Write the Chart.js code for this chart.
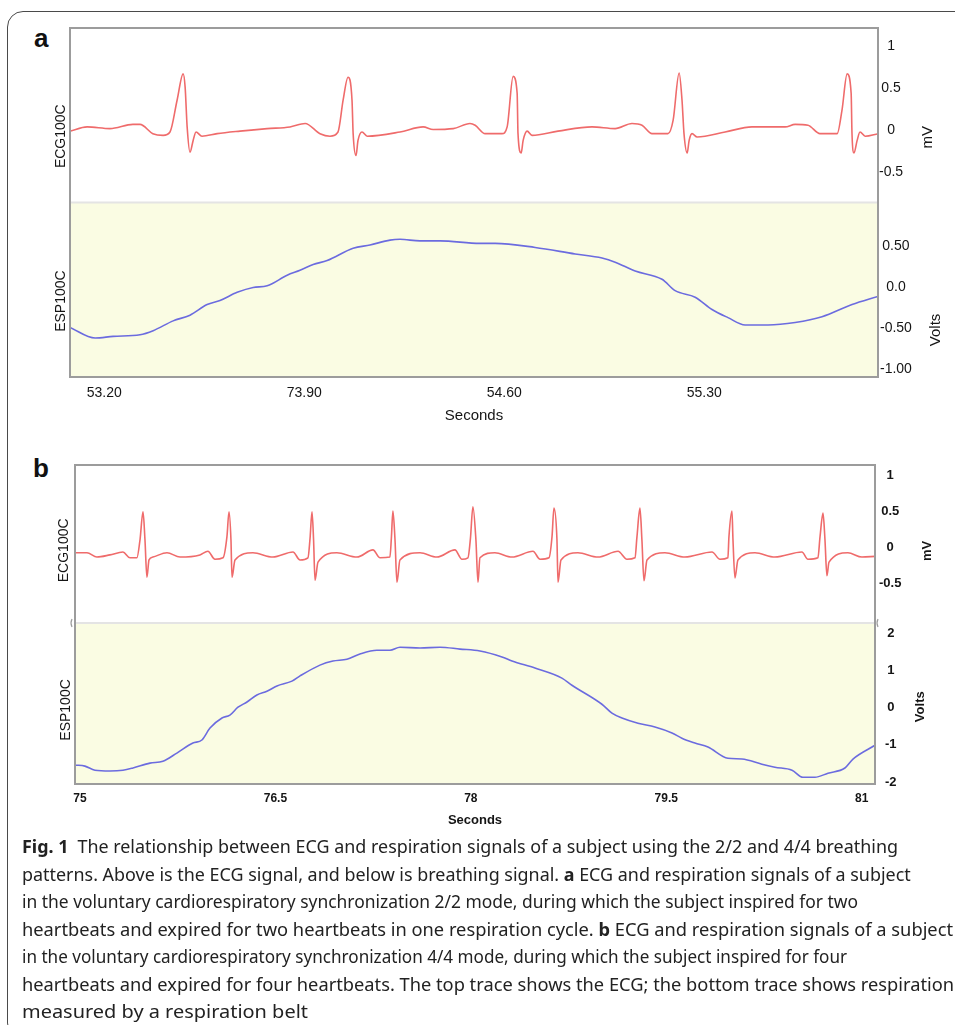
<!DOCTYPE html>
<html>
<head>
<meta charset="utf-8">
<script src="https://cdn.jsdelivr.net/npm/chart.js@4.4.1/dist/chart.umd.min.js"></script>
<style>
  html, body { margin: 0; padding: 0; background: #fff; }
  body { width: 955px; height: 1025px; position: relative; overflow: hidden; font-family: "Liberation Sans", Arial, sans-serif; }
  .frame { position: absolute; left: 7px; top: 11px; width: 1000px; height: 1028px; border: 1.4px solid #4a4a4a; border-radius: 16px; box-sizing: border-box; }
  .tag { position: absolute; font: bold 26px/26px "Liberation Sans", Arial, sans-serif; color: #111; }
  #chartA { position: absolute; left: 0; top: 0; }
  #chartB { position: absolute; left: 0; top: 435px; }
  .caption { position: absolute; left: 22px; top: 833px; font: 18px/27.5px "Noto Sans", "Open Sans", sans-serif; color: #222; }
  .caption .ln { display: block; white-space: nowrap; width: max-content; transform-origin: 0 50%; }
</style>
</head>
<body>
<div class="frame"></div>
<div class="tag" style="left:34px; top:25px;">a</div>
<div class="tag" style="left:33px; top:455px;">b</div>
<canvas id="chartA" width="955" height="430"></canvas>
<canvas id="chartB" width="955" height="400"></canvas>
<div class="caption">
  <span class="ln"><b>Fig. 1</b>&ensp;The relationship between ECG and respiration signals of a subject using the 2/2 and 4/4 breathing</span>
  <span class="ln">patterns. Above is the ECG signal, and below is breathing signal. <b>a</b> ECG and respiration signals of a subject</span>
  <span class="ln">in the voluntary cardiorespiratory synchronization 2/2 mode, during which the subject inspired for two</span>
  <span class="ln">heartbeats and expired for two heartbeats in one respiration cycle. <b>b</b> ECG and respiration signals of a subject</span>
  <span class="ln">in the voluntary cardiorespiratory synchronization 4/4 mode, during which the subject inspired for four</span>
  <span class="ln">heartbeats and expired for four heartbeats. The top trace shows the ECG; the bottom trace shows respiration</span>
  <span class="ln">measured by a respiration belt</span>
</div>
<script>
// ---- panel a (2/2 mode) ----
const ecgATime = [53.080, 53.140, 53.220, 53.300, 53.325, 53.370, 53.406, 53.430, 53.455, 53.476, 53.483, 53.490, 53.500, 53.511, 53.521, 53.542,
  53.595, 53.675, 53.770, 53.850, 53.903, 53.955, 53.990, 54.018, 54.036, 54.053, 54.067, 54.071, 54.081, 54.088, 54.102, 54.120,
  54.235, 54.316, 54.351, 54.421, 54.480, 54.498, 54.533, 54.592, 54.610, 54.631, 54.645, 54.648, 54.659, 54.666, 54.680, 54.697,
  54.788, 54.907, 54.988, 55.047, 55.082, 55.117, 55.173, 55.191, 55.212, 55.222, 55.229, 55.240, 55.247, 55.257, 55.275,
  55.373, 55.467, 55.583, 55.618, 55.663, 55.705, 55.765, 55.782, 55.800, 55.814, 55.817, 55.824, 55.835, 55.845, 55.863, 55.908];
const ecgAmV = [-0.01, 0.04, 0.02, 0.07, 0.07, -0.04, -0.06, -0.02, 0.36, 0.67, 0.51, 0.04, -0.26, -0.12, -0.02, -0.07,
  -0.04, -0.01, 0.02, 0.04, 0.08, -0.04, -0.07, -0.02, 0.36, 0.63, 0.36, -0.04, -0.30, -0.12, -0.02, -0.07,
  -0.02, 0.04, 0.01, 0.02, 0.08, 0.06, -0.04, -0.04, 0.04, 0.64, 0.44, -0.04, -0.27, -0.12, -0.01, -0.06,
  -0.01, 0.04, 0.02, 0.08, 0.06, -0.04, -0.04, 0.12, 0.68, 0.36, -0.04, -0.27, -0.12, -0.04, -0.08,
  -0.02, 0.04, 0.04, 0.07, 0.06, -0.04, -0.04, 0.24, 0.67, 0.44, -0.04, -0.27, -0.12, -0.02, -0.07, -0.04];
const respATime = [53.080, 53.168, 53.231, 53.325, 53.371, 53.441, 53.500, 53.560, 53.605, 53.665, 53.721, 53.770, 53.840, 53.885,
  53.931, 53.980, 54.071, 54.130, 54.200, 54.235, 54.305, 54.375, 54.515, 54.568, 54.708, 54.848, 54.942, 54.988, 55.058,
  55.152, 55.198, 55.268, 55.327, 55.383, 55.443, 55.523, 55.618, 55.712, 55.817, 55.908];
const respAVolts = [-0.49, -0.62, -0.60, -0.58, -0.53, -0.41, -0.34, -0.21, -0.16, -0.06, 0.00, 0.02, 0.15, 0.21,
  0.28, 0.33, 0.48, 0.52, 0.58, 0.59, 0.57, 0.57, 0.54, 0.54, 0.49, 0.41, 0.36, 0.31, 0.20,
  0.10, -0.04, -0.12, -0.27, -0.37, -0.46, -0.46, -0.43, -0.36, -0.21, -0.11];
const xTicksA = [53.2, 53.9, 54.6, 55.3];
const xLabelsA = ['53.20', '73.90', '54.60', '55.30'];
const ecgTicksA = [-0.5, 0, 0.5, 1];
const ecgLabelsA = ['-0.5', '0', '0.5', '1'];
const respTicksA = [-1, -0.5, 0, 0.5];
const respLabelsA = ['-1.00', '-0.50', '0.0', '0.50'];

// ---- panel b (4/4 mode) ----
const ecgBTime = [74.962, 75.054, 75.130, 75.230, 75.330, 75.384, 75.437, 75.461, 75.484, 75.499, 75.514, 75.530, 75.560,
  75.668, 75.768, 75.921, 75.982, 76.036, 76.098, 76.128, 76.144, 76.159, 76.167, 76.190,
  76.328, 76.481, 76.635, 76.689, 76.750, 76.766, 76.781, 76.793, 76.804, 76.827,
  76.972, 77.126, 77.249, 77.303, 77.379, 77.390, 77.402, 77.418, 77.433, 77.456,
  77.610, 77.740, 77.878, 77.932, 77.978, 77.997, 78.016, 78.039, 78.055, 78.070,
  78.185, 78.316, 78.477, 78.531, 78.600, 78.623, 78.638, 78.661, 78.669, 78.692,
  78.822, 78.976, 79.130, 79.198, 79.260, 79.275, 79.298, 79.313, 79.329, 79.352,
  79.490, 79.643, 79.851, 79.912, 79.973, 79.981, 80.004, 80.012, 80.027, 80.050,
  80.181, 80.334, 80.541, 80.587, 80.664, 80.680, 80.703, 80.718, 80.733, 80.749,
  80.894, 81.002, 81.102];
const ecgBmV = [-0.08, -0.08, -0.14, -0.11, -0.07, -0.15, -0.15, 0.10, 0.49, 0.10, -0.42, -0.18, -0.14,
  -0.08, -0.14, -0.11, -0.06, -0.17, -0.15, 0.14, 0.49, 0.10, -0.42, -0.18,
  -0.08, -0.14, -0.07, -0.18, -0.15, 0.12, 0.49, 0.10, -0.46, -0.21,
  -0.08, -0.14, -0.04, -0.15, -0.14, 0.12, 0.50, 0.10, -0.49, -0.18,
  -0.08, -0.14, -0.04, -0.17, -0.15, 0.12, 0.56, 0.10, -0.49, -0.15,
  -0.08, -0.14, -0.06, -0.17, -0.15, 0.14, 0.54, 0.10, -0.49, -0.18,
  -0.08, -0.14, -0.06, -0.17, -0.15, 0.14, 0.54, 0.10, -0.47, -0.18,
  -0.08, -0.14, -0.07, -0.17, -0.15, 0.14, 0.50, 0.10, -0.43, -0.18,
  -0.08, -0.14, -0.07, -0.17, -0.15, 0.14, 0.47, 0.10, -0.40, -0.21,
  -0.08, -0.14, -0.13];
const respBTime = [74.962, 75.038, 75.115, 75.230, 75.330, 75.407, 75.537, 75.637, 75.744, 75.867, 75.936, 75.998,
  76.090, 76.151, 76.213, 76.282, 76.358, 76.435, 76.512, 76.627, 76.689, 76.842, 76.942, 77.049, 77.149,
  77.279, 77.379, 77.456, 77.610, 77.763, 77.917, 78.070, 78.239, 78.316, 78.492, 78.699, 78.776, 79.006,
  79.083, 79.160, 79.283, 79.413, 79.544, 79.620, 79.720, 79.820, 79.973, 80.081, 80.234, 80.334, 80.465,
  80.549, 80.641, 80.741, 80.871, 80.933, 81.102];
const respBVolts = [-1.54, -1.57, -1.68, -1.70, -1.68, -1.62, -1.49, -1.44, -1.22, -0.95, -0.87, -0.55,
  -0.28, -0.20, 0.01, 0.15, 0.34, 0.44, 0.58, 0.71, 0.85, 1.14, 1.25, 1.30, 1.44,
  1.54, 1.54, 1.62, 1.60, 1.62, 1.57, 1.52, 1.36, 1.25, 1.06, 0.79, 0.60, 0.09,
  -0.15, -0.28, -0.42, -0.52, -0.68, -0.82, -0.95, -1.06, -1.36, -1.38, -1.52, -1.60, -1.68,
  -1.87, -1.87, -1.76, -1.62, -1.38, -1.01];
const xTicksB = [75, 76.5, 78, 79.5, 81];
const xLabelsB = ['75', '76.5', '78', '79.5', '81'];
const ecgTicksB = [-0.5, 0, 0.5, 1];
const ecgLabelsB = ['-0.5', '0', '0.5', '1'];
const respTicksB = [-2, -1, 0, 1, 2];
const respLabelsB = ['-2', '-1', '0', '1', '2'];

const INK = '#151515';
const SANS = '"Liberation Sans", Arial, sans-serif';

// background band, frame and the rotated side texts
const panelDecor = {
  id: 'panelDecor',
  beforeDatasetsDraw(chart, args, opts) {
    const { ctx, chartArea: a } = chart;
    const r = chart.scales.yResp;
    ctx.save();
    ctx.fillStyle = '#fafce3';
    ctx.fillRect(a.left, r.top, a.right - a.left, r.bottom - r.top);
    ctx.restore();
  },
  afterDatasetsDraw(chart, args, opts) {
    const { ctx, chartArea: a } = chart;
    const r = chart.scales.yResp;
    ctx.save();
    ctx.strokeStyle = '#e4e4e4';
    ctx.lineWidth = 2;
    ctx.beginPath();
    ctx.moveTo(a.left, r.top);
    ctx.lineTo(a.right, r.top);
    ctx.stroke();
    ctx.strokeStyle = '#9c9c9c';
    ctx.lineWidth = 2;
    ctx.strokeRect(a.left, a.top, a.right - a.left, a.bottom - a.top);
    if (opts.breakMarks) {
      ctx.lineWidth = 1.2;
      [a.left - 3, a.right + 3].forEach(x => {
        ctx.beginPath();
        ctx.moveTo(x, r.top - 4);
        ctx.quadraticCurveTo(x - 2, r.top, x, r.top + 4);
        ctx.stroke();
      });
    }
    ctx.fillStyle = INK;
    ctx.textAlign = 'center';
    ctx.textBaseline = 'middle';
    opts.texts.forEach(t => {
      const sc = chart.scales[t.scale];
      const x = t.side === 'left' ? a.left - t.dx : a.right + t.dx;
      const y = sc.top + (sc.bottom - sc.top) * t.at;
      ctx.save();
      ctx.translate(x, y);
      ctx.rotate(-Math.PI / 2);
      ctx.font = t.font;
      ctx.fillText(t.text, 0, 0);
      ctx.restore();
    });
    ctx.restore();
  }
};

function fixedTicks(values, labels) {
  return {
    afterBuildTicks: s => { s.ticks = values.map(v => ({ value: v })); },
    callback: v => labels[values.indexOf(v)]
  };
}

function buildPanel(id, p) {
  const pts = (ts, vs) => ts.map((t, i) => ({ x: t, y: vs[i] }));
  const xt = fixedTicks(p.xTicks, p.xLabels);
  const et = fixedTicks(p.ecgTicks, p.ecgLabels);
  const rt = fixedTicks(p.respTicks, p.respLabels);
  return new Chart(document.getElementById(id), {
    type: 'line',
    data: {
      datasets: [
        { data: pts(p.ecgT, p.ecgV), yAxisID: 'yEcg', borderColor: '#ef6b6b', borderWidth: 1.6,
          pointRadius: 0, cubicInterpolationMode: 'monotone' },
        { data: pts(p.respT, p.respV), yAxisID: 'yResp', borderColor: '#6b6bdf', borderWidth: 1.6,
          pointRadius: 0, cubicInterpolationMode: 'monotone' }
      ]
    },
    options: {
      responsive: false,
      animation: false,
      events: [],
      layout: { padding: p.pad },
      plugins: { legend: { display: false }, tooltip: { enabled: false }, panelDecor: p.decor },
      scales: {
        x: {
          type: 'linear', min: p.xMin, max: p.xMax,
          grid: { display: false, drawTicks: false }, border: { display: false },
          afterBuildTicks: xt.afterBuildTicks,
          afterFit: s => { s.height = p.xH; },
          ticks: { callback: xt.callback, autoSkip: false, maxRotation: 0, padding: p.xPad, color: INK, font: p.xFont },
          title: { display: true, text: 'Seconds', color: INK, font: p.titleFont, padding: { top: 0, bottom: p.titlePad } }
        },
        yEcg: {
          type: 'linear', position: 'right', stack: 'sig', stackWeight: p.ecgWeight,
          min: p.ecgMin, max: p.ecgMax,
          grid: { display: false, drawTicks: false }, border: { display: false },
          afterBuildTicks: et.afterBuildTicks,
          afterFit: s => { s.width = p.yW; },
          ticks: { callback: et.callback, crossAlign: 'center', padding: p.ecgPad, color: INK, font: p.yFont }
        },
        yResp: {
          type: 'linear', position: 'right', stack: 'sig', stackWeight: p.respWeight,
          min: p.respMin, max: p.respMax,
          grid: { display: false, drawTicks: false }, border: { display: false },
          afterBuildTicks: rt.afterBuildTicks,
          afterFit: s => { s.width = p.yW; },
          ticks: { callback: rt.callback, crossAlign: 'center', padding: p.respPad, color: INK, font: p.yFont }
        }
      }
    },
    plugins: [panelDecor]
  });
}

buildPanel('chartA', {
  ecgT: ecgATime, ecgV: ecgAmV, respT: respATime, respV: respAVolts,
  xTicks: xTicksA, xLabels: xLabelsA, ecgTicks: ecgTicksA, ecgLabels: ecgLabelsA,
  respTicks: respTicksA, respLabels: respLabelsA,
  xMin: 53.08, xMax: 55.908, ecgMin: -0.857, ecgMax: 1.214, respMin: -1.098, respMax: 1.041,
  ecgWeight: 1, respWeight: 1,
  pad: { left: 70, top: 28, right: 0, bottom: 0 }, xH: 53, yW: 77,
  xPad: 8, ecgPad: 1, respPad: 2, titlePad: 5,
  xFont: { family: SANS, size: 14 }, yFont: { family: SANS, size: 14 }, titleFont: { family: SANS, size: 15 },
  decor: {
    breakMarks: false,
    texts: [
      { text: 'ECG100C', scale: 'yEcg', side: 'left', dx: 9, at: 0.62, font: '14px ' + SANS },
      { text: 'ESP100C', scale: 'yResp', side: 'left', dx: 9, at: 0.565, font: '14px ' + SANS },
      { text: 'mV', scale: 'yEcg', side: 'right', dx: 50, at: 0.626, font: '15px ' + SANS },
      { text: 'Volts', scale: 'yResp', side: 'right', dx: 58, at: 0.73, font: '15px ' + SANS }
    ]
  }
});

buildPanel('chartB', {
  ecgT: ecgBTime, ecgV: ecgBmV, respT: respBTime, respV: respBVolts,
  xTicks: xTicksB, xLabels: xLabelsB, ecgTicks: ecgTicksB, ecgLabels: ecgLabelsB,
  respTicks: respTicksB, respLabels: respLabelsB,
  xMin: 74.962, xMax: 81.102, ecgMin: -1.056, ecgMax: 1.139, respMin: -2.05, respMax: 2.27,
  ecgWeight: 158, respWeight: 161,
  pad: { left: 75, top: 30, right: 0, bottom: 0 }, xH: 51, yW: 80,
  xPad: 7, ecgPad: 4, respPad: 10, titlePad: 7,
  xFont: { family: SANS, size: 12, weight: 'bold' }, yFont: { family: SANS, size: 13, weight: 'bold' },
  titleFont: { family: SANS, size: 13, weight: 'bold' },
  decor: {
    breakMarks: true,
    texts: [
      { text: 'ECG100C', scale: 'yEcg', side: 'left', dx: 11, at: 0.54, font: '14px ' + SANS },
      { text: 'ESP100C', scale: 'yResp', side: 'left', dx: 9, at: 0.54, font: '14px ' + SANS },
      { text: 'mV', scale: 'yEcg', side: 'right', dx: 52, at: 0.544, font: 'bold 13px ' + SANS },
      { text: 'Volts', scale: 'yResp', side: 'right', dx: 45, at: 0.52, font: 'bold 13px ' + SANS }
    ]
  }
});

// fit each caption line to its width in the figure; line 2 reuses line 1's squeeze
const captionLineWidths = [876, null, 836, 931, 825, 932, 286];
document.fonts.ready.then(() => {
  const lines = document.querySelectorAll('.caption .ln');
  const k0 = captionLineWidths[0] / lines[0].getBoundingClientRect().width;
  lines.forEach((el, i) => {
    const target = captionLineWidths[i];
    const k = target ? target / el.getBoundingClientRect().width : k0;
    el.style.transform = 'scaleX(' + k.toFixed(4) + ')';
  });
});
</script>
</body>
</html>
